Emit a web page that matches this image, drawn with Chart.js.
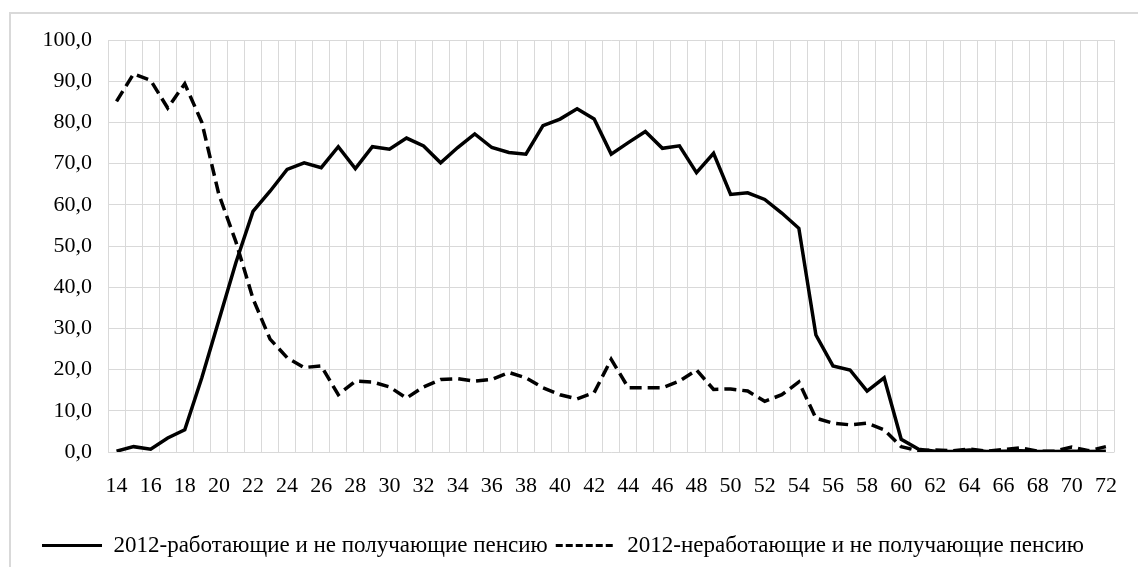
<!DOCTYPE html>
<html>
<head>
<meta charset="utf-8">
<script src="https://cdn.jsdelivr.net/npm/chart.js@4"></script>
<style>
  html, body { margin: 0; padding: 0; background: #fff; }
  #frame { position: absolute; left: 9px; top: 12px; width: 1140px; height: 570px; border: 2px solid #d9d9d9; box-sizing: border-box; }
  #wrap { position: absolute; left: 0; top: 0; width: 1138px; height: 567px; }
</style>
</head>
<body>
<div id="frame"></div>
<div id="wrap"><canvas id="myChart"></canvas></div>
<script>
// ages 14..72
const ages = [14, 15, 16, 17, 18, 19, 20, 21, 22, 23, 24, 25, 26, 27, 28, 29, 30, 31, 32, 33,
  34, 35, 36, 37, 38, 39, 40, 41, 42, 43, 44, 45, 46, 47, 48, 49, 50, 51, 52, 53,
  54, 55, 56, 57, 58, 59, 60, 61, 62, 63, 64, 65, 66, 67, 68, 69, 70, 71, 72];

const working = [0.2, 1.3, 0.7, 3.4, 5.4, 18.0, 32.0, 46.0, 58.4, 63.3, 68.6, 70.2, 69.0, 74.1,
  68.8, 74.1, 73.5, 76.2, 74.3, 70.2, 73.9, 77.2, 73.9, 72.7, 72.3, 79.2, 80.8, 83.3,
  80.8, 72.3, 75.1, 77.8, 73.7, 74.3, 67.8, 72.5, 62.5, 62.9, 61.3, 58.0, 54.3, 28.4,
  20.9, 19.9, 14.8, 18.0, 3.1, 0.7, 0.2, 0.1, 0.5, 0.1, 0.2, 0.3, 0.1, 0.1, 0.2, 0.1, 0.2];

const notWorking = [85.1, 91.8, 90.2, 83.5, 89.4, 80.0, 62.5, 51.0, 37.2, 27.4, 22.9, 20.5, 20.9, 13.9,
  17.2, 17.0, 15.8, 13.1, 15.8, 17.6, 17.8, 17.2, 17.6, 19.3, 18.0, 15.6, 13.9, 12.9,
  14.4, 22.5, 15.6, 15.6, 15.6, 17.2, 19.9, 15.2, 15.3, 14.8, 12.3, 13.9, 17.0, 8.2,
  7.0, 6.6, 7.0, 5.4, 1.3, 0.3, 0.5, 0.3, 0.7, 0.2, 0.6, 1.0, 0.2, 0.2, 1.2, 0.3, 1.3];

const seriesNames = ["2012-работающие и не получающие пенсию", "2012-неработающие и не получающие пенсию"];

const FONT = "'Liberation Serif', 'Times New Roman', serif";
const GRID = "#d9d9d9";

const ctx = document.getElementById("myChart");
new Chart(ctx, {
  type: "line",
  data: {
    labels: ages,
    datasets: [
      {
        label: seriesNames[0],
        data: working,
        borderColor: "#000",
        backgroundColor: "#000",
        borderWidth: 3.5,
        pointRadius: 0,
        pointStyle: "line",
        tension: 0,
        fill: false
      },
      {
        label: seriesNames[1],
        data: notWorking,
        borderColor: "#000",
        backgroundColor: "#000",
        borderWidth: 3.5,
        borderDash: [12, 6],
        pointRadius: 0,
        pointStyle: "line",
        tension: 0,
        fill: false
      }
    ]
  },
  options: {
    responsive: true,
    maintainAspectRatio: false,
    animation: false,
    layout: { padding: { left: 0, right: 12, top: 40, bottom: 0 } },
    plugins: {
      tooltip: { enabled: false },
      legend: {
        position: "bottom",
        labels: {
          usePointStyle: true,
          pointStyleWidth: 60,
          color: "#000",
          font: { family: FONT, size: 23 },
          padding: 8,
          // point-style legend ignores borderDash, so copy it over
          generateLabels: (chart) => {
            const items = Chart.defaults.plugins.legend.labels.generateLabels(chart);
            items.forEach((it) => {
              const ds = chart.data.datasets[it.datasetIndex];
              it.lineDash = ds.borderDash ? [7, 3] : [];
              it.lineWidth = 3;
            });
            return items;
          }
        }
      }
    },
    scales: {
      x: {
        offset: true,
        grid: { color: GRID, lineWidth: 1, offset: true, drawTicks: false },
        border: { display: false },
        ticks: {
          autoSkip: false,
          maxRotation: 0,
          color: "#000",
          font: { family: FONT, size: 22 },
          padding: 21,
          callback: function (v, i) { return i % 2 === 0 ? this.getLabelForValue(v) : ""; }
        },
        afterFit: (s) => { s.height = 74; }
      },
      y: {
        min: 0,
        max: 100,
        grid: { color: GRID, lineWidth: 1, drawTicks: false },
        border: { display: false },
        ticks: {
          stepSize: 10,
          color: "#000",
          font: { family: FONT, size: 22 },
          padding: 16,
          callback: (v) => v.toFixed(1).replace(".", ",")
        },
        afterFit: (s) => { s.width = 108; }
      }
    }
  }
});
</script>
</body>
</html>
